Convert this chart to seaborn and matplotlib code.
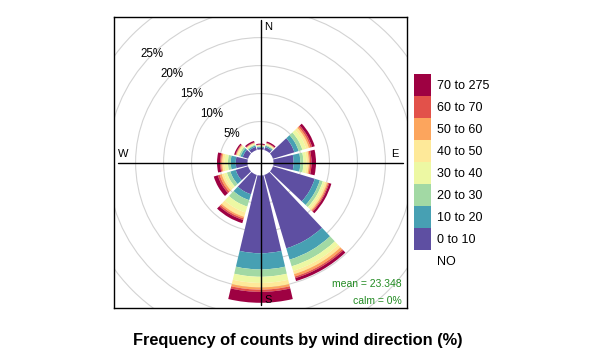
import numpy as np
import pandas as pd
import seaborn as sns
import matplotlib
matplotlib.use("Agg")
import matplotlib.pyplot as plt
from matplotlib.patches import Wedge, Circle, Patch

# wind directions (degrees, clockwise from north)
directions = [0, 30, 60, 90, 120, 150, 180, 210, 240, 270, 300, 330]

# speed bins (legend labels, lowest first)
speed_bins = ['0 to 10', '10 to 20', '20 to 30', '30 to 40',
              '40 to 50', '50 to 60', '60 to 70', '70 to 275']

# frequency (%) of each speed bin per direction
freq_0_10 = [0.35, 0.55, 4.0, 3.6, 7.8, 13.7, 13.9, 3.6, 2.3, 2.1, 1.0, 0.6]
freq_10_20 = [0.15, 0.25, 0.8, 1.2, 0.95, 2.1, 2.9, 1.1, 1.0, 0.9, 0.4, 0.25]
freq_20_30 = [0.10, 0.15, 0.7, 0.55, 0.55, 1.25, 1.3, 1.2, 0.65, 0.5, 0.3, 0.15]
freq_30_40 = [0.10, 0.15, 0.7, 0.55, 0.4, 0.85, 1.1, 1.1, 0.55, 0.6, 0.25, 0.15]
freq_40_50 = [0.08, 0.10, 0.5, 0.4, 0.4, 0.6, 0.8, 0.8, 0.45, 0.4, 0.2, 0.13]
freq_50_60 = [0.05, 0.08, 0.3, 0.2, 0.2, 0.45, 0.4, 0.3, 0.35, 0.2, 0.1, 0.08]
freq_60_70 = [0.05, 0.07, 0.3, 0.3, 0.2, 0.3, 0.4, 0.3, 0.35, 0.2, 0.1, 0.08]
freq_70_275 = [0.17, 0.25, 0.5, 0.8, 0.4, 0.55, 1.95, 0.6, 0.75, 0.55, 0.25, 0.26]

grid_levels = [5, 10, 15, 20, 25, 30, 35]
mean_text = 'mean = 23.348'
calm_text = 'calm = 0%'

# Build a table of frequencies
freq_df = pd.DataFrame(
    [freq_0_10, freq_10_20, freq_20_30, freq_30_40,
     freq_40_50, freq_50_60, freq_60_70, freq_70_275],
    index=speed_bins, columns=directions).T
cum_df = freq_df.cumsum(axis=1)

sns.set_style("white")
plt.rcParams['font.family'] = ['Liberation Sans', 'DejaVu Sans']
plt.rcParams['text.color'] = 'black'

colors = sns.color_palette("Spectral_r", as_cmap=True)(np.linspace(0, 1, 8))

offset = 2.32     # size of the hole in the middle (in % units)
half_width = 13.3  # half angular width of each sector

fig = plt.figure(figsize=(5.95, 3.55), dpi=100)
ax = fig.add_axes([114 / 595, 1 - 308 / 355, 293 / 595, 291 / 355])
ax.set_xlim(-26.15, 26.15)
ax.set_ylim(-26.0, 26.0)
ax.set_aspect('equal')
ax.set_xticks([])
ax.set_yticks([])
for sp in ax.spines.values():
    sp.set_color('black')
    sp.set_linewidth(1)

# grid circles
for lev in grid_levels:
    ax.add_patch(Circle((0, 0), offset + lev, fill=False,
                        edgecolor='#d3d3d3', linewidth=0.8, zorder=1))

# sectors
for d in directions:
    theta = 90 - d
    prev = 0.0
    for i, b in enumerate(speed_bins):
        top = cum_df.loc[d, b]
        if top > prev:
            ax.add_patch(Wedge((0, 0), offset + top, theta - half_width,
                               theta + half_width, width=top - prev,
                               facecolor=colors[i], edgecolor='none',
                               linewidth=0, zorder=2))
        prev = top

# cross lines
ax.plot([-25.5, 25.5], [0, 0], color='black', lw=1, zorder=3)
ax.plot([0, 0], [-25.5, 25.5], color='black', lw=1, zorder=3)

# direction labels
ax.text(1.4, 24.2, 'N', fontsize=8, ha='center', va='center')
ax.text(24.0, 1.5, 'E', fontsize=8, ha='center', va='center')
ax.text(1.4, -24.6, 'S', fontsize=8, ha='center', va='center')
ax.text(-24.6, 1.5, 'W', fontsize=8, ha='center', va='center')

# percentage labels
for lev in grid_levels[:5]:
    r = (offset + lev) / np.sqrt(2)
    ax.text(-r, r, f'{lev}%', fontsize=8.3, ha='center', va='center')

ax.text(0.982, 0.082, mean_text, transform=ax.transAxes, fontsize=7.5,
        color='forestgreen', ha='right', va='center')
ax.text(0.982, 0.024, calm_text, transform=ax.transAxes, fontsize=7.5,
        color='forestgreen', ha='right', va='center')

# legend
handles = [Patch(facecolor=colors[i], edgecolor='none')
           for i in range(len(speed_bins))][::-1]
labels = speed_bins[::-1]
handles.append(Patch(facecolor='none', edgecolor='none'))
labels.append('NO')
fig.legend(handles, labels, loc='upper left',
           bbox_to_anchor=(414 / 595, 1 - 74 / 355), frameon=False,
           fontsize=9, handlelength=1.36, handleheight=2.33,
           labelspacing=0, handletextpad=0.5, borderpad=0, borderaxespad=0)

fig.text(0.5, 1 - 340 / 355, 'Frequency of counts by wind direction (%)',
         fontsize=11.8, fontweight='bold', ha='center', va='center')

fig.savefig('out.png', dpi=100)
